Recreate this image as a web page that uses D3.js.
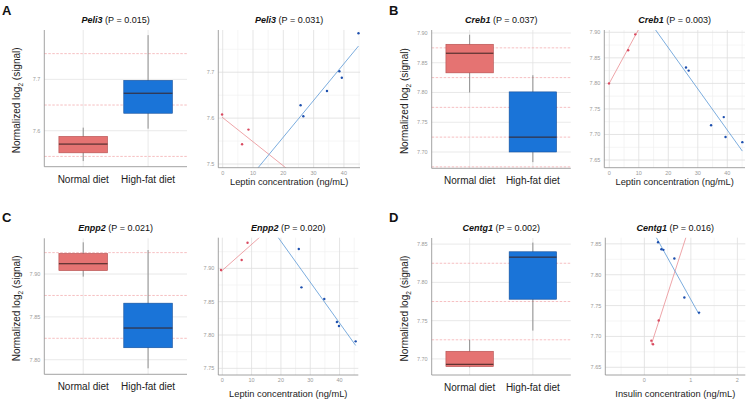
<!DOCTYPE html>
<html>
<head>
<meta charset="utf-8">
<script src="https://d3js.org/d3.v7.min.js"></script>
<style>
body { margin: 0; background: #fff; }
text { font-family: "Liberation Sans", Arial, sans-serif; }
</style>
</head>
<body>
<script>
// groups shown on the box plots
var groups = ["Normal diet", "High-fat diet"];

// box stats per group: [lower whisker, Q1, median, Q3, upper whisker]
var peli3Box  = [[7.541, 7.557, 7.574, 7.589, 7.606], [7.604, 7.634, 7.673, 7.698, 7.786]];
var creb1Box  = [[7.800, 7.833, 7.866, 7.881, 7.897], [7.683, 7.700, 7.725, 7.801, 7.829]];
var enpp2Box  = [[7.897, 7.904, 7.912, 7.924, 7.937], [7.790, 7.814, 7.837, 7.866, 7.928]];
var centg1Box = [[7.689, 7.690, 7.693, 7.710, 7.725], [7.737, 7.778, 7.833, 7.840, 7.852]];

// scatter points: hormone concentration (x) vs signal (y)
var peli3NormalX  = [-0.2, 6.4, 8.5];
var peli3NormalY  = [7.608, 7.543, 7.575];
var peli3HighFatX = [25.7, 26.6, 34.4, 38.5, 39.3, 44.8];
var peli3HighFatY = [7.628, 7.604, 7.659, 7.702, 7.688, 7.785];

var creb1NormalX  = [-0.1, 6.4, 8.8];
var creb1NormalY  = [7.800, 7.865, 7.896];
var creb1HighFatX = [26.0, 26.9, 34.5, 38.8, 39.4, 45.1];
var creb1HighFatY = [7.831, 7.825, 7.718, 7.734, 7.695, 7.685];

var enpp2NormalX  = [-0.45, 6.6, 8.6];
var enpp2NormalY  = [7.8975, 7.9125, 7.9385];
var enpp2HighFatX = [26.1, 27.0, 34.8, 39.1, 39.8, 45.5];
var enpp2HighFatY = [7.929, 7.8715, 7.854, 7.8195, 7.8135, 7.7905];

var centg1NormalX  = [0.15, 0.186, 0.308];
var centg1NormalY  = [7.6932, 7.6873, 7.7257];
var centg1HighFatX = [0.294, 0.366, 0.409, 0.645, 0.86, 1.176];
var centg1HighFatY = [7.8527, 7.8414, 7.8403, 7.8262, 7.763, 7.7386];

// tick values
var peli3BoxTicks = [7.6, 7.7];
var peli3ScatterYTicks = [7.5, 7.6, 7.7];
var creb1BoxTicks = [7.70, 7.75, 7.80, 7.85, 7.90];
var creb1ScatterYTicks = [7.65, 7.70, 7.75, 7.80, 7.85, 7.90];
var enpp2BoxTicks = [7.80, 7.85, 7.90];
var enpp2ScatterYTicks = [7.75, 7.80, 7.85, 7.90];
var centg1BoxTicks = [7.70, 7.75, 7.80, 7.85];
var centg1ScatterYTicks = [7.65, 7.70, 7.75, 7.80, 7.85];
var leptinTicks = [0, 10, 20, 30, 40];
var insulinTicks = [0, 1, 2];

var boxFill = ["#e57372", "#1a74d8"];
var boxStroke = ["#b24c4c", "#154f9a"];
var pointColor = ["#d94a60", "#1d4fae"];
var lineColor = ["#ea8e93", "#5a98d6"];

var svg = d3.select("body").append("svg")
  .attr("width", 750)
  .attr("height", 402);

var clipId = 0;

function minorOf(ticks, dom) {
  var step = ticks[1] - ticks[0];
  var out = ticks.map(function(t){ return t - step / 2; });
  out.push(ticks[ticks.length - 1] + step / 2);
  return out.filter(function(v){ return v > dom[0] && v < dom[1]; });
}

function title(x, y, gene, p) {
  var t = svg.append("text").attr("x", x).attr("y", y)
    .attr("text-anchor", "middle").attr("font-size", 9).attr("fill", "#111");
  t.append("tspan").attr("font-weight", "bold").attr("font-style", "italic").text(gene);
  t.append("tspan").text(" (P = " + p + ")");
}

function yAxisTitle(x, y) {
  var t = svg.append("text")
    .attr("transform", "translate(" + x + "," + y + ") rotate(-90)")
    .attr("text-anchor", "middle").attr("font-size", 10).attr("fill", "#222");
  t.append("tspan").text("Normalized log");
  t.append("tspan").attr("font-size", 6.5).attr("dy", 3).text("2");
  t.append("tspan").attr("dy", -3).text(" (signal)");
}

function yTickLabels(g, y, ticks, x0, fmt) {
  g.selectAll(".yl").data(ticks).enter().append("text")
    .attr("x", x0 - 4).attr("y", function(d){ return y(d) + 2; })
    .attr("text-anchor", "end").attr("font-size", 5.5).attr("fill", "#9a9a9a")
    .text(fmt);
}

function drawBox(c) {
  var g = svg.append("g");
  var x = d3.scalePoint().domain(groups).range([c.x0, c.x1]).padding(0.6);
  var y = d3.scaleLinear().domain(c.yDom).range([c.y1, c.y0]);
  var bw = x.step() * 0.75;

  // grid
  g.selectAll(".vg").data(groups).enter().append("line")
    .attr("x1", function(d){ return x(d); }).attr("x2", function(d){ return x(d); })
    .attr("y1", c.y0).attr("y2", c.y1).attr("stroke", "#e3e3e3").attr("stroke-width", 0.8);
  g.selectAll(".hg").data(c.ticks).enter().append("line")
    .attr("x1", c.x0).attr("x2", c.x1)
    .attr("y1", function(d){ return y(d); }).attr("y2", function(d){ return y(d); })
    .attr("stroke", "#e3e3e3").attr("stroke-width", 0.8);
  g.selectAll(".mg").data(minorOf(c.ticks, c.yDom)).enter().append("line")
    .attr("x1", c.x0).attr("x2", c.x1)
    .attr("y1", function(d){ return y(d); }).attr("y2", function(d){ return y(d); })
    .attr("stroke", "#f2a5a8").attr("stroke-width", 0.7).attr("stroke-dasharray", "2.5,1.5");

  // boxes
  c.box.forEach(function(s, i) {
    var cx = x(groups[i]);
    g.append("line").attr("x1", cx).attr("x2", cx)
      .attr("y1", y(s[0])).attr("y2", y(s[4])).attr("stroke", "#666").attr("stroke-width", 0.7);
    g.append("rect").attr("x", cx - bw / 2).attr("width", bw)
      .attr("y", y(s[3])).attr("height", y(s[1]) - y(s[3]))
      .attr("fill", boxFill[i]).attr("stroke", boxStroke[i]).attr("stroke-width", 0.6);
    g.append("line").attr("x1", cx - bw / 2).attr("x2", cx + bw / 2)
      .attr("y1", y(s[2])).attr("y2", y(s[2])).attr("stroke", "#3a2222").attr("stroke-width", 1);
  });

  // axis lines
  g.append("line").attr("x1", c.x0).attr("x2", c.x0).attr("y1", c.y0).attr("y2", c.y1)
    .attr("stroke", "#8a8a8a").attr("stroke-width", 0.8);
  g.append("line").attr("x1", c.x0).attr("x2", c.x1).attr("y1", c.y1).attr("y2", c.y1)
    .attr("stroke", "#8a8a8a").attr("stroke-width", 0.8);

  yTickLabels(g, y, c.ticks, c.x0, d3.format(c.fmt));
  g.selectAll(".cl").data(groups).enter().append("text")
    .attr("x", function(d){ return x(d); }).attr("y", c.y1 + 16)
    .attr("text-anchor", "middle").attr("font-size", 10).attr("fill", "#222")
    .text(function(d){ return d; });

  title((c.x0 + c.x1) / 2, c.y0 - 7, c.gene, c.p);
  yAxisTitle(c.x0 - 24, (c.y0 + c.y1) / 2 + 2);
}

function fit(xs, ys) {
  var mx = d3.mean(xs), my = d3.mean(ys);
  var sxy = d3.sum(xs, function(v, i){ return (v - mx) * (ys[i] - my); });
  var sxx = d3.sum(xs, function(v){ return (v - mx) * (v - mx); });
  var b = sxy / sxx;
  return { b: b, a: my - b * mx };
}

function drawScatter(c) {
  var g = svg.append("g");
  var x = d3.scaleLinear().domain(c.xDom).range([c.x0, c.x1]);
  var y = d3.scaleLinear().domain(c.yDom).range([c.y1, c.y0]);

  // minor grid
  g.selectAll(".mx").data(minorOf(c.xTicks, c.xDom)).enter().append("line")
    .attr("x1", function(d){ return x(d); }).attr("x2", function(d){ return x(d); })
    .attr("y1", c.y0).attr("y2", c.y1).attr("stroke", "#f1f1f1").attr("stroke-width", 0.7);
  g.selectAll(".my").data(minorOf(c.yTicks, c.yDom)).enter().append("line")
    .attr("x1", c.x0).attr("x2", c.x1)
    .attr("y1", function(d){ return y(d); }).attr("y2", function(d){ return y(d); })
    .attr("stroke", "#f1f1f1").attr("stroke-width", 0.7);
  // major grid
  g.selectAll(".gx").data(c.xTicks).enter().append("line")
    .attr("x1", function(d){ return x(d); }).attr("x2", function(d){ return x(d); })
    .attr("y1", c.y0).attr("y2", c.y1).attr("stroke", "#dedede").attr("stroke-width", 0.8);
  g.selectAll(".gy").data(c.yTicks).enter().append("line")
    .attr("x1", c.x0).attr("x2", c.x1)
    .attr("y1", function(d){ return y(d); }).attr("y2", function(d){ return y(d); })
    .attr("stroke", "#dedede").attr("stroke-width", 0.8);

  // regression lines over the full data range, clipped to the panel
  var id = "clip" + (clipId++);
  svg.append("clipPath").attr("id", id).append("rect")
    .attr("x", c.x0).attr("y", c.y0).attr("width", c.x1 - c.x0).attr("height", c.y1 - c.y0);
  var allX = c.xs[0].concat(c.xs[1]);
  var lo = d3.min(allX), hi = d3.max(allX);
  var lg = g.append("g").attr("clip-path", "url(#" + id + ")");
  [0, 1].forEach(function(i) {
    var f = fit(c.xs[i], c.ys[i]);
    lg.append("line")
      .attr("x1", x(lo)).attr("y1", y(f.a + f.b * lo))
      .attr("x2", x(hi)).attr("y2", y(f.a + f.b * hi))
      .attr("stroke", lineColor[i]).attr("stroke-width", 0.8);
  });

  // points
  [0, 1].forEach(function(i) {
    g.selectAll(".p" + i).data(c.xs[i]).enter().append("circle")
      .attr("cx", function(d){ return x(d); })
      .attr("cy", function(d, j){ return y(c.ys[i][j]); })
      .attr("r", 1.2).attr("fill", pointColor[i]);
  });

  // axis lines
  g.append("line").attr("x1", c.x0).attr("x2", c.x0).attr("y1", c.y0).attr("y2", c.y1)
    .attr("stroke", "#8a8a8a").attr("stroke-width", 0.8);
  g.append("line").attr("x1", c.x0).attr("x2", c.x1).attr("y1", c.y1).attr("y2", c.y1)
    .attr("stroke", "#8a8a8a").attr("stroke-width", 0.8);

  yTickLabels(g, y, c.yTicks, c.x0, d3.format(c.fmt));
  g.selectAll(".xl").data(c.xTicks).enter().append("text")
    .attr("x", function(d){ return x(d); }).attr("y", c.y1 + 7)
    .attr("text-anchor", "middle").attr("font-size", 5.5).attr("fill", "#9a9a9a")
    .text(function(d){ return d; });

  svg.append("text").attr("x", (c.x0 + c.x1) / 2).attr("y", c.y1 + c.xTitleDy)
    .attr("text-anchor", "middle").attr("font-size", 9.3).attr("fill", "#222")
    .text(c.xTitle);

  title((c.x0 + c.x1) / 2, c.y0 - 7, c.gene, c.p);
}

function letter(x, y, s) {
  svg.append("text").attr("x", x).attr("y", y).attr("font-size", 13)
    .attr("font-weight", "bold").attr("fill", "#111").text(s);
}

// Panel A
letter(2, 15, "A");
drawBox({ x0: 44.3, x1: 187, y0: 30, y1: 166.7, yDom: [7.53, 7.796],
  box: peli3Box, ticks: peli3BoxTicks, fmt: ".1f", gene: "Peli3", p: "0.015" });
drawScatter({ x0: 218.3, x1: 360, y0: 30, y1: 167.7, xDom: [-1.45, 45.3], yDom: [7.492, 7.792],
  xs: [peli3NormalX, peli3HighFatX], ys: [peli3NormalY, peli3HighFatY],
  xTicks: leptinTicks, yTicks: peli3ScatterYTicks, fmt: ".1f",
  xTitle: "Leptin concentration (ng/mL)", xTitleDy: 17.5, gene: "Peli3", p: "0.031" });

// Panel B
letter(389, 15, "B");
drawBox({ x0: 431.7, x1: 570.8, y0: 30, y1: 168.3, yDom: [7.6726, 7.905],
  box: creb1Box, ticks: creb1BoxTicks, fmt: ".2f", gene: "Creb1", p: "0.037" });
drawScatter({ x0: 604.3, x1: 745, y0: 30, y1: 167.7, xDom: [-1.69, 46.0], yDom: [7.635, 7.9045],
  xs: [creb1NormalX, creb1HighFatX], ys: [creb1NormalY, creb1HighFatY],
  xTicks: leptinTicks, yTicks: creb1ScatterYTicks, fmt: ".2f",
  xTitle: "Leptin concentration (ng/mL)", xTitleDy: 17.5, gene: "Creb1", p: "0.003" });

// Panel C
letter(2, 222, "C");
drawBox({ x0: 44.3, x1: 187, y0: 238.3, y1: 374.3, yDom: [7.783, 7.9417],
  box: enpp2Box, ticks: enpp2BoxTicks, fmt: ".2f", gene: "Enpp2", p: "0.021" });
drawScatter({ x0: 218.3, x1: 358.3, y0: 237.7, y1: 375, xDom: [-1.37, 46.4], yDom: [7.74, 7.946],
  xs: [enpp2NormalX, enpp2HighFatX], ys: [enpp2NormalY, enpp2HighFatY],
  xTicks: leptinTicks, yTicks: enpp2ScatterYTicks, fmt: ".2f",
  xTitle: "Leptin concentration (ng/mL)", xTitleDy: 21.5, gene: "Enpp2", p: "0.020" });

// Panel D
letter(389, 222, "D");
drawBox({ x0: 431.7, x1: 570.8, y0: 238, y1: 375, yDom: [7.679, 7.858],
  box: centg1Box, ticks: centg1BoxTicks, fmt: ".2f", gene: "Centg1", p: "0.002" });
drawScatter({ x0: 605.3, x1: 745.3, y0: 237.7, y1: 375, xDom: [-0.84, 2.17], yDom: [7.6375, 7.860],
  xs: [centg1NormalX, centg1HighFatX], ys: [centg1NormalY, centg1HighFatY],
  xTicks: insulinTicks, yTicks: centg1ScatterYTicks, fmt: ".2f",
  xTitle: "Insulin concentration (ng/mL)", xTitleDy: 21.5, gene: "Centg1", p: "0.016" });
</script>
</body>
</html>
